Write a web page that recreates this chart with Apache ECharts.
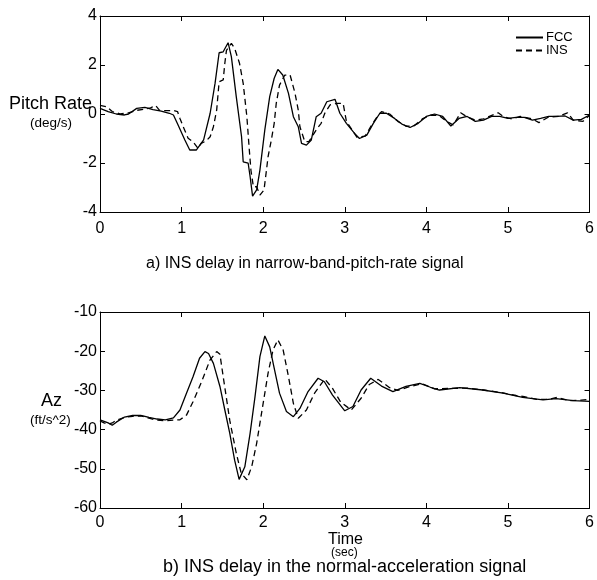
<!DOCTYPE html>
<html>
<head>
<meta charset="utf-8">
<script src="https://cdn.jsdelivr.net/npm/echarts@6/dist/echarts.min.js"></script>
<style>html,body{margin:0;padding:0;background:#fff;}#c{width:597px;height:580px;}</style>
</head>
<body>
<div id="c"></div>
<script>
// ---- Data ----
var xTicks = [0, 1, 2, 3, 4, 5, 6];
var pitchTicks = [-4, -2, 0, 2, 4];
var azTicks = [-60, -50, -40, -30, -20, -10];

// a) Pitch rate, FCC (solid)
var fccPitchT = [0, 0.1, 0.2, 0.3, 0.35, 0.45, 0.55, 0.65, 0.75, 0.85, 0.9, 0.95, 1.04, 1.10, 1.18, 1.27, 1.35, 1.41, 1.46, 1.51, 1.57, 1.61, 1.67, 1.735, 1.755, 1.816, 1.84, 1.87, 1.92, 1.96, 2.02, 2.08, 2.135, 2.18, 2.24, 2.31, 2.37, 2.43, 2.47, 2.53, 2.59, 2.65, 2.71, 2.78, 2.88, 2.94, 3.02, 3.12, 3.18, 3.27, 3.35, 3.43, 3.51, 3.61, 3.7, 3.8, 3.9, 4.0, 4.1, 4.2, 4.3, 4.4, 4.5, 4.6, 4.7, 4.8, 4.9, 5.0, 5.1, 5.2, 5.3, 5.4, 5.5, 5.6, 5.7, 5.8, 5.9, 6.0];
var fccPitch = [0.23, 0.10, 0.00, -0.04, 0.00, 0.23, 0.27, 0.18, 0.12, 0.03, -0.04, -0.4, -1.06, -1.47, -1.47, -1.06, 0.03, 1.25, 2.50, 2.54, 2.91, 2.34, 0.71, -0.93, -1.95, -2.01, -2.56, -3.35, -3.1, -2.29, -0.65, 0.71, 1.46, 1.82, 1.59, 0.84, -0.11, -0.52, -1.2, -1.27, -1.06, -0.11, 0.03, 0.5, 0.6, 0.03, -0.38, -0.79, -1.0, -0.86, -0.38, 0.03, 0.03, -0.18, -0.41, -0.55, -0.38, -0.1, 0.0, -0.1, -0.49, -0.18, -0.1, -0.3, -0.25, -0.1, -0.1, -0.18, -0.14, -0.14, -0.25, -0.18, -0.1, -0.1, -0.08, -0.25, -0.22, -0.04];

// a) Pitch rate, INS (dashed)
var insPitchT = [0, 0.08, 0.15, 0.25, 0.35, 0.45, 0.55, 0.62, 0.68, 0.73, 0.78, 0.84, 0.9, 0.95, 0.98, 1.02, 1.08, 1.14, 1.20, 1.24, 1.30, 1.35, 1.39, 1.43, 1.46, 1.51, 1.53, 1.55, 1.61, 1.65, 1.71, 1.755, 1.80, 1.83, 1.85, 1.88, 1.92, 1.96, 2.01, 2.04, 2.06, 2.10, 2.135, 2.16, 2.20, 2.265, 2.33, 2.39, 2.43, 2.45, 2.51, 2.56, 2.61, 2.66, 2.71, 2.755, 2.82, 2.90, 2.98, 3.02, 3.1, 3.15, 3.25, 3.32, 3.4, 3.45, 3.55, 3.65, 3.75, 3.85, 3.95, 4.05, 4.15, 4.25, 4.33, 4.42, 4.5, 4.6, 4.7, 4.88, 4.95, 5.05, 5.15, 5.3, 5.38, 5.5, 5.62, 5.73, 5.8, 5.92, 6.0];
var insPitch = [0.35, 0.3, 0.1, 0.0, 0.05, 0.15, 0.2, 0.25, 0.35, 0.15, 0.14, 0.14, 0.14, 0.1, -0.18, -0.52, -0.99, -1.13, -1.40, -1.2, -1.1, -0.93, -0.52, 0.16, 1.32, 1.39, 2.07, 2.6, 2.88, 2.68, 2.07, 1.25, -0.11, -1.47, -2.3, -2.97, -2.97, -3.31, -3.1, -2.3, -1.74, -1.06, -0.38, 0.43, 1.18, 1.59, 1.59, 0.85, 0.16, -0.52, -1.13, -1.13, -0.86, -0.6, -0.38, 0.03, 0.37, 0.43, 0.43, -0.3, -0.7, -0.95, -0.9, -0.5, -0.1, 0.1, 0.0, -0.3, -0.5, -0.48, -0.2, -0.05, -0.05, -0.3, -0.45, 0.05, -0.12, -0.25, -0.2, 0.05, -0.12, -0.2, -0.1, -0.2, -0.35, -0.12, -0.1, 0.05, -0.25, -0.3, -0.05];

// b) Normal acceleration, FCC (solid)
var fccAzT = [0, 0.05, 0.1, 0.15, 0.2, 0.3, 0.4, 0.5, 0.6, 0.7, 0.8, 0.9, 0.98, 1.06, 1.14, 1.22, 1.286, 1.33, 1.39, 1.47, 1.53, 1.59, 1.65, 1.705, 1.775, 1.84, 1.90, 1.96, 2.02, 2.08, 2.14, 2.20, 2.285, 2.37, 2.45, 2.55, 2.673, 2.75, 2.85, 3.0, 3.1, 3.2, 3.318, 3.45, 3.59, 3.75, 3.92, 4.05, 4.16, 4.41, 4.69, 4.94, 5.18, 5.43, 5.59, 5.80, 6.0];
var fccAz = [-37.5, -37.9, -38.3, -38.9, -38.1, -36.8, -36.4, -36.4, -36.9, -37.3, -37.5, -37.0, -35.0, -30.7, -26.5, -21.8, -20.1, -20.6, -23.1, -29.0, -35.0, -40.9, -47.8, -52.7, -49.5, -40.9, -31.6, -21.4, -16.1, -18.9, -24.8, -30.7, -35.4, -36.7, -34.6, -30.3, -26.9, -27.8, -31.2, -35.2, -34.1, -29.9, -26.9, -28.9, -30.3, -29.0, -28.2, -29.2, -29.9, -29.3, -29.9, -30.7, -31.8, -32.4, -32.1, -32.6, -32.8];

// b) Normal acceleration, INS (dashed)
var insAzT = [0, 0.05, 0.1, 0.15, 0.2, 0.3, 0.4, 0.5, 0.6, 0.7, 0.8, 0.9, 0.98, 1.06, 1.14, 1.245, 1.347, 1.43, 1.47, 1.51, 1.59, 1.67, 1.73, 1.80, 1.86, 1.92, 1.98, 2.06, 2.12, 2.18, 2.245, 2.31, 2.37, 2.43, 2.53, 2.63, 2.755, 2.85, 2.95, 3.08, 3.2, 3.3, 3.41, 3.55, 3.65, 3.8, 3.95, 4.1, 4.3, 4.5, 4.7, 4.9, 5.1, 5.2, 5.35, 5.5, 5.6, 5.75, 5.9, 6.0];
var insAz = [-37.8, -38.3, -38.6, -38.3, -37.6, -36.9, -36.6, -36.5, -37.1, -37.6, -37.7, -37.6, -37.5, -36.3, -32.9, -27.8, -22.3, -20.1, -20.8, -26.5, -37.6, -46.0, -51.1, -52.8, -49.4, -43.5, -35.8, -25.6, -19.7, -17.1, -19.7, -26.5, -33.3, -37.1, -35.0, -30.7, -27.1, -29.5, -33.0, -35.0, -32.0, -28.5, -27.2, -29.3, -30.0, -29.0, -28.3, -29.6, -29.5, -29.4, -29.9, -30.5, -31.3, -31.6, -32.3, -32.3, -31.8, -32.6, -32.5, -32.3];

// ---- Chart ----
function pairs(ts, vs) { return ts.map(function (t, i) { return [t, vs[i]]; }); }
var FONT = 'Liberation Sans, Arial, Helvetica, sans-serif';
var BLACK = '#000';

function xAx(gi, pos, show, margin) {
  return {
    type: 'value', gridIndex: gi, position: pos,
    min: xTicks[0], max: xTicks[xTicks.length - 1], interval: 1,
    axisLine: { show: true, onZero: false, lineStyle: { color: BLACK, width: 1 } },
    axisTick: { show: true, inside: true, length: 5, lineStyle: { color: BLACK } },
    axisLabel: { show: show, color: BLACK, fontSize: 16, fontFamily: FONT, margin: margin },
    splitLine: { show: false }
  };
}
function yAx(gi, pos, show, ticks) {
  return {
    type: 'value', gridIndex: gi, position: pos,
    min: ticks[0], max: ticks[ticks.length - 1], interval: ticks[1] - ticks[0],
    axisLine: { show: true, onZero: false, lineStyle: { color: BLACK, width: 1 } },
    axisTick: { show: true, inside: true, length: 5, lineStyle: { color: BLACK } },
    axisLabel: { show: show, color: BLACK, fontSize: 16, fontFamily: FONT, margin: 3 },
    splitLine: { show: false }
  };
}
function lineSeries(name, xi, yi, data, dashed) {
  return {
    name: name, type: 'line', xAxisIndex: xi, yAxisIndex: yi,
    data: data, symbol: 'none', showSymbol: false, animation: false,
    lineStyle: { color: BLACK, width: 1.3, type: dashed ? [6, 4] : 'solid' },
    itemStyle: { color: BLACK }
  };
}

var chart = echarts.init(document.getElementById('c'), null, { renderer: 'canvas' });
chart.setOption({
  animation: false,
  backgroundColor: '#fff',
  grid: [
    { left: 100, top: 16, width: 490, height: 196 },
    { left: 100, top: 312, width: 490, height: 196 }
  ],
  xAxis: [xAx(0, 'bottom', true, 9), xAx(0, 'top', false, 0), xAx(1, 'bottom', true, 7), xAx(1, 'top', false, 0)],
  yAxis: [yAx(0, 'left', true, pitchTicks), yAx(0, 'right', false, pitchTicks), yAx(1, 'left', true, azTicks), yAx(1, 'right', false, azTicks)],
  legend: {
    data: ['FCC', 'INS'], orient: 'vertical', left: 515, top: 31,
    itemWidth: 27, itemHeight: 8, itemGap: 0, padding: 0,
    itemStyle: { opacity: 0, borderWidth: 0 },
    textStyle: { color: BLACK, fontSize: 13, fontFamily: FONT, lineHeight: 12, padding: [0, 0, 0, -2] },
    selectedMode: false
  },
  series: [
    lineSeries('FCC', 0, 0, pairs(fccPitchT, fccPitch), false),
    lineSeries('INS', 0, 0, pairs(insPitchT, insPitch), true),
    lineSeries('FCC Az', 2, 2, pairs(fccAzT, fccAz), false),
    lineSeries('INS Az', 2, 2, pairs(insAzT, insAz), true)
  ],
  graphic: [
    { type: 'text', left: 9, top: 95, style: { text: 'Pitch Rate', fontSize: 18, fontFamily: FONT, fill: BLACK } },
    { type: 'text', left: 30, top: 116, style: { text: '(deg/s)', fontSize: 13.5, fontFamily: FONT, fill: BLACK } },
    { type: 'text', left: 146, top: 256, style: { text: 'a) INS delay in narrow-band-pitch-rate signal', fontSize: 16, fontFamily: FONT, fill: BLACK } },
    { type: 'text', left: 41, top: 392, style: { text: 'Az', fontSize: 18, fontFamily: FONT, fill: BLACK } },
    { type: 'text', left: 30, top: 413, style: { text: '(ft/s^2)', fontSize: 13.5, fontFamily: FONT, fill: BLACK } },
    { type: 'text', left: 328, top: 532, style: { text: 'Time', fontSize: 16, fontFamily: FONT, fill: BLACK } },
    { type: 'text', left: 331, top: 547, style: { text: '(sec)', fontSize: 12, fontFamily: FONT, fill: BLACK } },
    { type: 'text', left: 163, top: 558, style: { text: 'b) INS delay in the normal-acceleration signal', fontSize: 18, fontFamily: FONT, fill: BLACK } }
  ]
});
</script>
</body>
</html>
